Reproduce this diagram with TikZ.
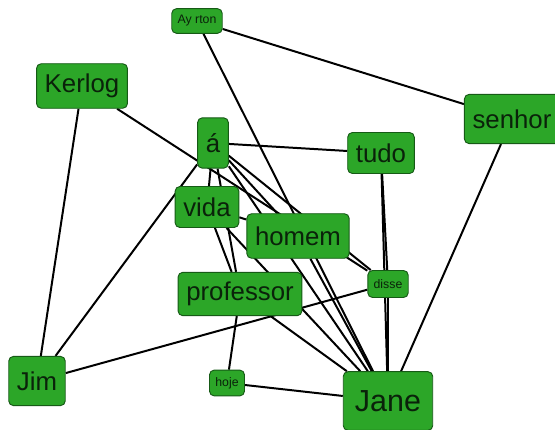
\documentclass[tikz,border=0pt]{standalone}
\usepackage{fontspec}
\setmainfont{Liberation Sans}
\usetikzlibrary{backgrounds}
\definecolor{leaf}{RGB}{44,166,40}
\definecolor{leafedge}{RGB}{22,90,22}
\definecolor{leaftext}{RGB}{10,34,10}

\begin{document}
\begin{tikzpicture}[
  x=0.03cm,
  y=-0.03cm,
  word/.style={
    draw=leafedge,
    fill=leaf,
    text=leaftext,
    rounded corners=4pt,
    line width=0.8pt,
    inner xsep=7pt,
    minimum height=38pt,
    font=\fontsize{22}{22}\selectfont
  },
  tag/.style={
    word,
    inner xsep=5pt,
    minimum height=21pt,
    font=\fontsize{10.5}{10.5}\selectfont
  },
  link/.style={
    line width=1.7pt
  }
]
  \useasboundingbox (0,0) rectangle (555,430);
  \node[tag] (ayrton) at (197,21) {Ay rton};
  \node[word] (kerlog) at (82,86) {Kerlog};
  \node[word,minimum height=42pt] (senhor) at (512,119) {senhor};
  \node[word,minimum height=43pt] (a) at (213,143) {á};
  \node[word,minimum height=35pt] (tudo) at (381,153) {tudo};
  \node[word,minimum height=35pt] (vida) at (207,207) {vida};
  \node[word] (homem) at (298,236) {homem};
  \node[tag,minimum height=23pt] (disse) at (388,284) {disse};
  \node[word,minimum height=37pt] (professor) at (240,294) {professor};
  \node[word,minimum height=42pt] (jim) at (37,381) {Jim};
  \node[tag,minimum height=22pt] (hoje) at (227,383) {hoje};
  \node[word,minimum height=50pt,inner xsep=10pt,font=\fontsize{26}{26}\selectfont] (jane) at (388,401) {Jane};
  \begin{scope}[on background layer]
    \draw[link] (ayrton) -- (senhor);
    \draw[link] (ayrton) -- (jane);
    \draw[link] (kerlog) -- (jim);
    \draw[link] (kerlog) -- (disse);
    \draw[link] (senhor) -- (jane);
    \draw[link] (a) -- (tudo);
    \draw[link] (a) -- (vida);
    \draw[link] (a) -- (homem);
    \draw[link] (a) -- (jane);
    \draw[link] (a) -- (disse);
    \draw[link] (a) -- (professor);
    \draw[link] (jim) -- (a);
    \draw[link] (jim) -- (disse);
    \draw[link] (tudo) -- (disse);
    \draw[link] (tudo) -- (jane);
    \draw[link] (disse) -- (jane);
    \draw[link] (vida) -- (homem);
    \draw[link] (vida) -- (professor);
    \draw[link] (vida) -- (jane);
    \draw[link] (homem) -- (jane);
    \draw[link] (professor) -- (jane);
    \draw[link] (professor) -- (hoje);
    \draw[link] (hoje) -- (jane);
  \end{scope}
\end{tikzpicture}
\end{document}
